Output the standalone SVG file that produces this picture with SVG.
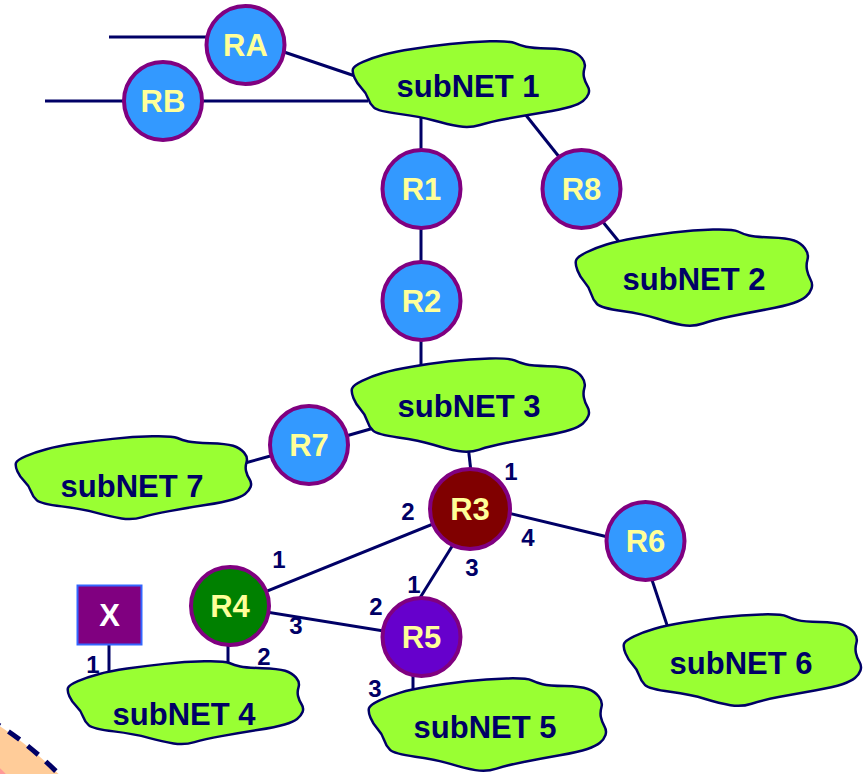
<svg xmlns="http://www.w3.org/2000/svg" xmlns:xlink="http://www.w3.org/1999/xlink" width="868" height="774" viewBox="0 0 868 774">
<style>
.ln{stroke:#000066;stroke-width:3;fill:none}
.cl{fill:#99ff33;stroke:#000066;stroke-width:2.5}
.ct{font-family:"Liberation Sans",Arial,sans-serif;font-weight:bold;font-size:31px;fill:#000066;text-anchor:middle}
.rt{stroke:#800080;stroke-width:4}
.rl{font-family:"Liberation Sans",Arial,sans-serif;font-weight:bold;font-size:31px;fill:#ffff99;text-anchor:middle}
.pl{font-family:"Liberation Sans",Arial,sans-serif;font-weight:bold;font-size:24px;fill:#000066;text-anchor:middle}
</style>
<defs>
<path id="cloud" vector-effect="non-scaling-stroke" d="M 1 32.5 Q 2 29 11 24.5 Q 20 20 31.5 16.5 Q 43 13 60.5 10 Q 78 7 98 4.5 Q 118 2 138 1.5 Q 158 1 163 3.5 Q 168 6 174 7.5 Q 180 9 196 9.5 Q 212 10 219 12.5 Q 226 15 230 20.5 Q 234 26 232.5 31.5 Q 231 37 232 42 Q 233 47 235.5 51.5 Q 238 56 236.5 60.5 Q 235 65 231 68.5 Q 227 72 218.5 75 Q 210 78 191 81.5 Q 172 85 155 88.5 Q 138 92 128 95.5 Q 118 99 107 97 Q 96 95 82 90.5 Q 68 86 47 83 Q 26 80 22 76 Q 18 72 16 65.5 Q 14 59 9.5 54 Q 5 49 2.5 42.5 Q 0 36 1 32.5 Z"/>
</defs>

<g id="area">
<path d="M -20 714 Q 30 742 78 794 L -20 794 Z" fill="#ffcc99"/>
<path d="M -20 756 Q 0 764 12 782 L -20 782 Z" fill="#ff9999"/>
<path d="M -12 719 Q 30 742 72 788" fill="none" stroke="#000066" stroke-width="5" stroke-dasharray="14 10"/>
</g>

<g id="connectors">
<line class="ln" x1="109" y1="37" x2="210" y2="37"/>
<line class="ln" x1="284" y1="52" x2="358" y2="77"/>
<line class="ln" x1="45" y1="101" x2="126" y2="101"/>
<line class="ln" x1="200" y1="101" x2="368" y2="101"/>
<line class="ln" x1="421" y1="115" x2="421" y2="152"/>
<line class="ln" x1="525" y1="114" x2="560" y2="158"/>
<line class="ln" x1="603" y1="222" x2="620" y2="243"/>
<line class="ln" x1="421" y1="226" x2="421" y2="264"/>
<line class="ln" x1="421" y1="338" x2="421" y2="372"/>
<line class="ln" x1="346" y1="436" x2="374" y2="428"/>
<line class="ln" x1="274" y1="455" x2="245" y2="463"/>
<line class="ln" x1="468" y1="445" x2="471" y2="472"/>
<line class="ln" x1="470" y1="509" x2="230" y2="606"/>
<line class="ln" x1="230" y1="606" x2="421" y2="637"/>
<line class="ln" x1="456" y1="540" x2="418" y2="601"/>
<line class="ln" x1="500" y1="511" x2="608" y2="537"/>
<line class="ln" x1="652" y1="580" x2="668" y2="628"/>
<line class="ln" x1="228" y1="640" x2="228" y2="666"/>
<line class="ln" x1="413" y1="674" x2="413" y2="690"/>
<line class="ln" x1="109" y1="644" x2="109" y2="680"/>
</g>

<g id="subnet1"><use xlink:href="#cloud" class="cl" transform="translate(352,40) scale(1,0.89)"/><text class="ct" x="468" y="97">subNET 1</text></g>
<g id="subnet2"><use xlink:href="#cloud" class="cl" transform="translate(575,228)"/><text class="ct" x="694" y="290">subNET 2</text></g>
<g id="subnet3"><use xlink:href="#cloud" class="cl" transform="translate(351,357) scale(1.004,0.97)"/><text class="ct" x="469" y="417">subNET 3</text></g>
<g id="subnet7"><use xlink:href="#cloud" class="cl" transform="translate(15,435) scale(0.996,0.86)"/><text class="ct" x="132" y="497">subNET 7</text></g>
<g id="subnet4"><use xlink:href="#cloud" class="cl" transform="translate(67,660) scale(0.996,0.86)"/><text class="ct" x="184" y="725">subNET 4</text></g>
<g id="subnet5"><use xlink:href="#cloud" class="cl" transform="translate(368,677) scale(1.004,0.96)"/><text class="ct" x="485" y="738">subNET 5</text></g>
<g id="subnet6"><use xlink:href="#cloud" class="cl" transform="translate(623,613) scale(1.004,0.95)"/><text class="ct" x="741" y="674">subNET 6</text></g>

<g id="RA"><circle class="rt" cx="245.5" cy="45" r="39" fill="#3399ff"/><text class="rl" x="245.5" y="56">RA</text></g>
<g id="RB"><circle class="rt" cx="163" cy="101" r="39" fill="#3399ff"/><text class="rl" x="163" y="112">RB</text></g>
<g id="R1"><circle class="rt" cx="421.5" cy="189" r="39" fill="#3399ff"/><text class="rl" x="421.5" y="200">R1</text></g>
<g id="R8"><circle class="rt" cx="581.5" cy="189" r="39" fill="#3399ff"/><text class="rl" x="581.5" y="200">R8</text></g>
<g id="R2"><circle class="rt" cx="421.5" cy="301" r="39" fill="#3399ff"/><text class="rl" x="421.5" y="312">R2</text></g>
<g id="R7"><circle class="rt" cx="309" cy="445" r="39" fill="#3399ff"/><text class="rl" x="309" y="456">R7</text></g>
<g id="R3"><circle class="rt" cx="470" cy="509" r="40" fill="#800000"/><text class="rl" x="470" y="520">R3</text></g>
<g id="R6"><circle class="rt" cx="645.5" cy="541" r="39" fill="#3399ff"/><text class="rl" x="645.5" y="552">R6</text></g>
<g id="R4"><circle class="rt" cx="230" cy="606" r="39" fill="#008000"/><text class="rl" x="230" y="617">R4</text></g>
<g id="R5"><circle class="rt" cx="421.5" cy="637" r="39" fill="#6600cc"/><text class="rl" x="421.5" y="648">R5</text></g>
<g id="X"><rect x="77.5" y="585.5" width="64" height="59" fill="#800080" stroke="#3366ff" stroke-width="2"/><text x="109.5" y="626" font-family="Liberation Sans, Arial, sans-serif" font-weight="bold" font-size="31" fill="#ffffff" text-anchor="middle">X</text></g>

<g id="ports">
<text class="pl" x="511" y="480">1</text>
<text class="pl" x="408" y="520">2</text>
<text class="pl" x="528" y="546">4</text>
<text class="pl" x="472" y="576">3</text>
<text class="pl" x="414" y="593">1</text>
<text class="pl" x="376" y="615">2</text>
<text class="pl" x="279" y="568">1</text>
<text class="pl" x="296" y="634">3</text>
<text class="pl" x="264" y="665">2</text>
<text class="pl" x="93" y="673">1</text>
<text class="pl" x="375" y="697">3</text>
</g>
</svg>
